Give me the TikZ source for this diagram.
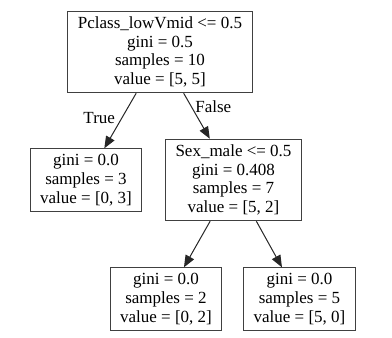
\documentclass[tikz,border=0pt]{standalone}
\usepackage{fontspec}
\setmainfont{Liberation Serif}
\usetikzlibrary{arrows.meta}
\begin{document}
\begin{tikzpicture}[x=1pt, y=1pt, node distance=128pt,
  every node/.style={font=\fontsize{17}{18.7}\selectfont, align=center},
  treenode/.style={draw=black!75, line width=1pt, inner xsep=10pt, inner ysep=5.5pt},
  edge/.style={draw=black!85, line width=1pt, -{Triangle[length=12pt, width=9.5pt]}}]
\useasboundingbox (0,0) rectangle (392,-338);
\node[treenode] (root) at (160,-52) {Pclass\_lowVmid <= 0.5\\gini = 0.5\\samples = 10\\value = [5, 5]};
\node[treenode] (leftleaf) [below of=root, xshift=-74pt] {gini = 0.0\\samples = 3\\value = [0, 3]};
\node[treenode] (sex) [below of=root, xshift=73.5pt] {Sex\_male <= 0.5\\gini = 0.408\\samples = 7\\value = [5, 2]};
\node[treenode] (botleft) [below of=sex, xshift=-67.5pt, yshift=9pt] {gini = 0.0\\samples = 2\\value = [0, 2]};
\node[treenode] (botright) [below of=sex, xshift=66pt, yshift=9pt] {gini = 0.0\\samples = 5\\value = [5, 0]};
\draw[edge] (root) -- node[left, pos=0.45, xshift=-3pt]{True} (leftleaf);
\draw[edge] (root) -- node[right, pos=0.3]{False} (sex);
\draw[edge] (sex) -- (botleft);
\draw[edge] (sex) -- (botright);
\end{tikzpicture}
\end{document}
